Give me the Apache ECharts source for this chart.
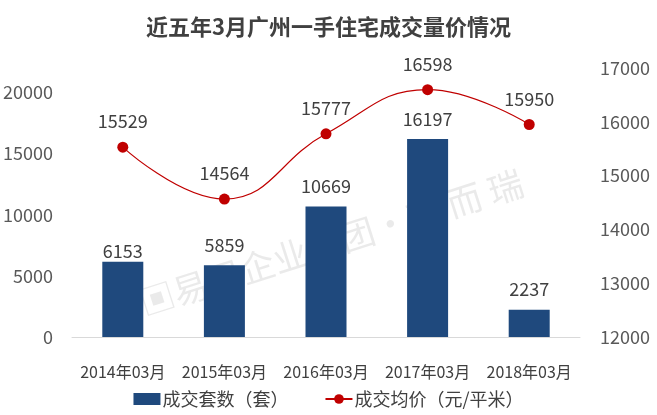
<!DOCTYPE html>
<html><head><meta charset="utf-8">
<script src="https://cdn.jsdelivr.net/npm/echarts@6/dist/echarts.min.js"></script>
<style>html,body{margin:0;padding:0;background:#fff}#c{width:657px;height:415px}</style>
</head><body><div id="c"></div>
<script>
const categories = ['2014年03月','2015年03月','2016年03月','2017年03月','2018年03月'];
const volume = [6153, 5859, 10669, 16197, 2237];
const price = [15529, 14564, 15777, 16598, 15950];
const leftTicks = [0, 5000, 10000, 15000, 20000];
const rightTicks = [12000, 13000, 14000, 15000, 16000, 17000];

const FONT = '"Noto Sans CJK SC", "Noto Sans", sans-serif';
const chart = echarts.init(document.getElementById('c'), null, {renderer:'canvas'});
chart.setOption({
  animation: false,
  textStyle: {fontFamily: FONT},
  title: {
    text: '近五年3月广州一手住宅成交量价情况',
    left: 'center', top: 11,
    textStyle: {fontSize: 22, fontWeight: 'bold', color: '#404040', fontFamily: FONT}
  },
  graphic: [{
    type: 'text', left: 135, top: 165, rotation: 0.31, z: 0,
    style: {text: '▣易居企业集团·克 而 瑞', fontSize: 35, fill: 'rgba(190,190,190,0.33)', fontFamily: FONT}
  }],
  legend: {
    bottom: 2, left: 'center', itemGap: 36, itemWidth: 27, itemHeight: 12,
    textStyle: {fontSize: 18, color: '#404040', fontFamily: FONT, padding: [0,0,0,-3]},
    data: [
      {name: '成交套数（套）', icon: 'rect'},
      {name: '成交均价（元/平米）'}
    ]
  },
  grid: {left: 72, right: 77, top: 68, bottom: 78},
  xAxis: {
    type: 'category', data: categories,
    axisLine: {lineStyle: {color: '#d9d9d9'}},
    axisTick: {show: false},
    axisLabel: {fontSize: 16, color: '#404040', margin: 27, interval: 0, fontFamily: FONT}
  },
  yAxis: [{
    type: 'value', min: 0, max: 22000, interval: 5000,
    splitLine: {show: false}, axisLine: {show: false}, axisTick: {show: false},
    axisLabel: {fontSize: 18, color: '#595959', margin: 19, showMaxLabel: false, fontFamily: FONT,
      formatter: v => leftTicks.includes(v) ? String(v) : ''}
  }, {
    type: 'value', min: 12000, max: 17000, interval: 1000,
    splitLine: {show: false}, axisLine: {show: false}, axisTick: {show: false},
    axisLabel: {fontSize: 18, color: '#595959', margin: 20, fontFamily: FONT,
      formatter: v => rightTicks.includes(v) ? String(v) : ''}
  }],
  series: [{
    name: '成交套数（套）', type: 'bar', barWidth: 41, yAxisIndex: 0,
    data: volume.map((v, i) => i === 0 ? {value: v, label: {distance: 2}} : v),
    itemStyle: {color: '#1f497d'},
    label: {show: true, position: 'top', distance: 11, fontSize: 18, color: '#404040', fontFamily: FONT}
  }, {
    name: '成交均价（元/平米）', type: 'line', data: price, yAxisIndex: 1, smooth: 0.45,
    symbol: 'circle', symbolSize: 11,
    lineStyle: {color: '#c00000', width: 1.2},
    itemStyle: {color: '#c00000'},
    label: {show: true, position: 'top', distance: 11, fontSize: 18, color: '#404040', fontFamily: FONT},
    z: 5
  }]
});
</script></body></html>
